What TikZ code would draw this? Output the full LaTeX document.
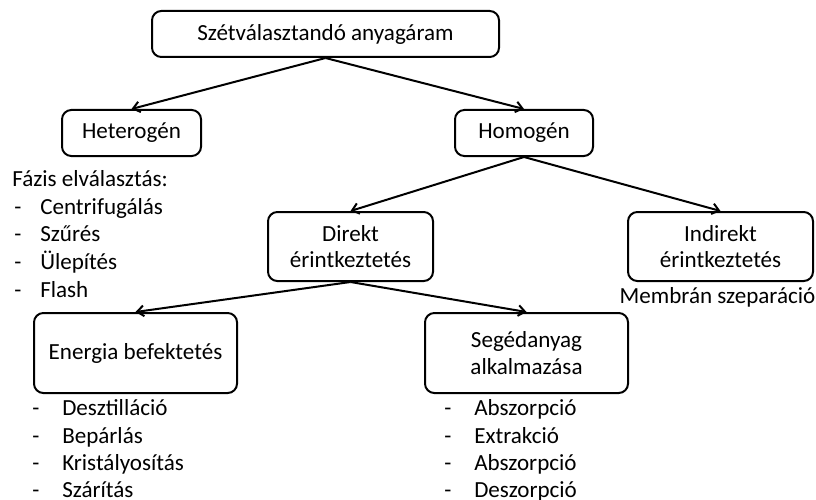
\documentclass[tikz,border=0pt]{standalone}
\usepackage{fontspec}
\setmainfont{Carlito}
\usetikzlibrary{arrows.meta}
\begin{document}
\begin{tikzpicture}[x=0.75pt,y=-0.75pt,
  every node/.style={font=\fontsize{17.3pt}{20pt}\selectfont},
  box/.style={draw,line width=1.5pt,rounded corners=7pt,align=center,inner sep=0pt},
  lbl/.style={inner sep=0pt,anchor=base west},
  link/.style={line width=1.5pt,-{Straight Barb[length=5pt,width=8pt]}}]
\useasboundingbox (0,0) rectangle (816,499);

% boxes
\node[box,minimum width=260.25pt,minimum height=34.5pt] (top) at (325.5,34) {Szétválasztandó anyagáram};
\node[box,minimum width=104.25pt,minimum height=34.5pt] (het) at (131.5,133) {Heterogén};
\node[box,minimum width=103.5pt,minimum height=34.5pt] (hom) at (524,133) {Homogén};
\node[box,minimum width=123.75pt,minimum height=51.75pt] (dir) at (350.5,246.5) {Direkt\\érintkeztetés};
\node[box,minimum width=138.75pt,minimum height=51.75pt] (ind) at (720.5,246.5) {Indirekt\\érintkeztetés};
\node[box,minimum width=152.25pt,minimum height=60pt] (ene) at (135.5,353) {Energia befektetés};
\node[box,minimum width=152.25pt,minimum height=60pt] (seg) at (526.5,353) {Segédanyag\\alkalmazása};

% connectors
\draw[link] (top.south) -- (het.north);
\draw[link] (top.south) -- (hom.north);
\draw[link] (hom.south) -- (dir.north);
\draw[link] (hom.south) -- (ind.north);
\draw[link] (dir.south) -- (ene.north);
\draw[link] (dir.south) -- (seg.north);

% phase separation list
\node[lbl] (fz) at (12,186.7) {Fázis elválasztás:};
\node[lbl] (fz1) at (12,214) {\makebox[21pt][l]{\hspace{1.5pt}-}Centrifugálás};
\node[lbl] (fz2) at (12,241.7) {\makebox[21pt][l]{\hspace{1.5pt}-}Szűrés};
\node[lbl] (fz3) at (12,269.3) {\makebox[21pt][l]{\hspace{1.5pt}-}Ülepítés};
\node[lbl] (fz4) at (12,297) {\makebox[21pt][l]{\hspace{1.5pt}-}Flash};

% membrane label
\node[anchor=base,inner sep=0pt] (mem) at (717.5,303) {Membrán szeparáció};

% energy input list
\node[lbl] (en1) at (32,415.7) {\makebox[22.5pt][l]{-}Desztilláció};
\node[lbl] (en2) at (32,443.3) {\makebox[22.5pt][l]{-}Bepárlás};
\node[lbl] (en3) at (32,470.7) {\makebox[22.5pt][l]{-}Kristályosítás};
\node[lbl] (en4) at (32,497) {\makebox[22.5pt][l]{-}Szárítás};

% auxiliary agent list
\node[lbl] (sg1) at (444,415.7) {\makebox[22.5pt][l]{-}Abszorpció};
\node[lbl] (sg2) at (444,443.3) {\makebox[22.5pt][l]{-}Extrakció};
\node[lbl] (sg3) at (444,470.7) {\makebox[22.5pt][l]{-}Abszorpció};
\node[lbl] (sg4) at (444,497) {\makebox[22.5pt][l]{-}Deszorpció};
\end{tikzpicture}
\end{document}
